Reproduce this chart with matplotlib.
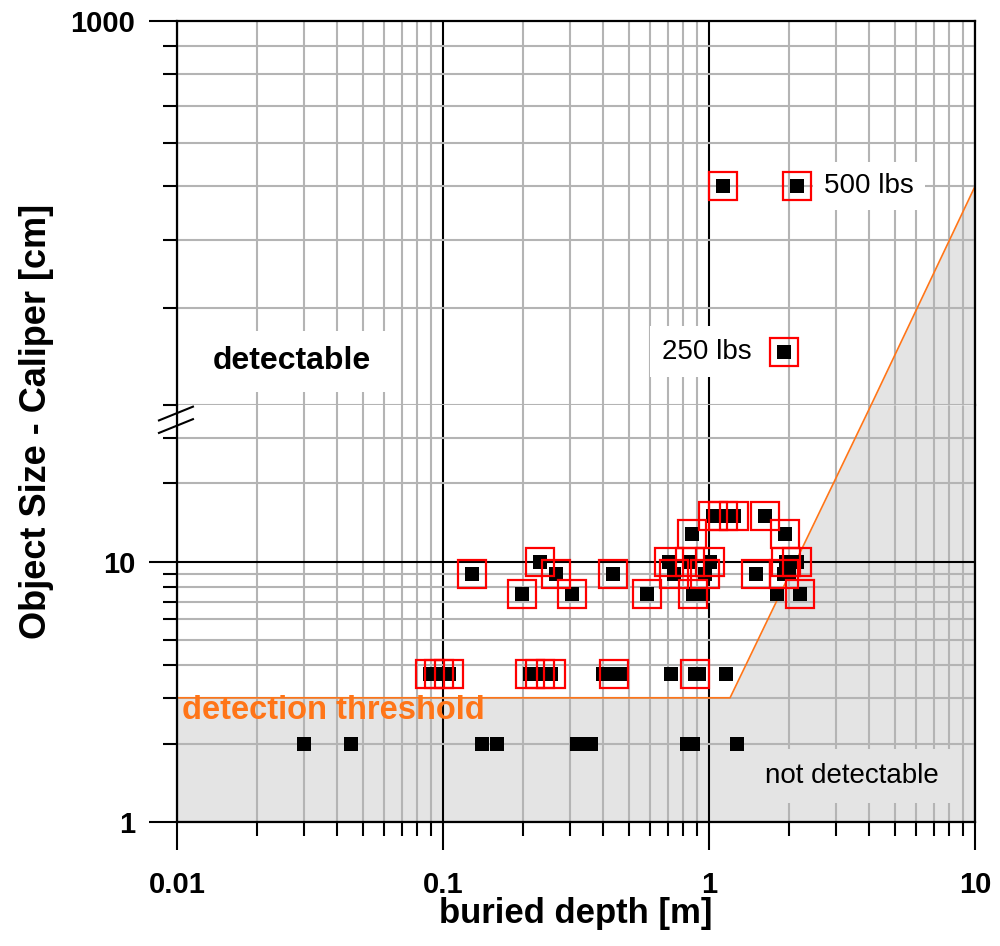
import numpy as np
import matplotlib.pyplot as plt

plt.rcParams['font.family'] = ['Liberation Sans', 'DejaVu Sans']

# depth [m] / caliper [cm] of the found objects
plain_depth = [0.03, 0.045, 0.14, 0.16, 0.32, 0.36, 0.83, 0.87, 1.27,
               0.40, 0.47, 0.72, 0.92, 1.16,
               0.95, 1.80,
               2.00]
plain_size = [2, 2, 2, 2, 2, 2, 2, 2, 2,
              3.7, 3.7, 3.7, 3.7, 3.7,
              7.5, 7.5,
              9]

marked_depth = [0.089, 0.097, 0.105, 0.212, 0.232, 0.255, 0.44, 0.885,
                0.198, 0.305, 0.585, 0.87, 2.2,
                0.128, 0.267, 0.435, 0.74, 0.97, 1.5, 1.92,
                0.232, 0.71, 0.85, 1.01, 1.95, 2.14,
                0.86, 1.93,
                1.035, 1.13, 1.24, 1.63,
                1.13, 2.14, 1.91]
marked_size = [3.7, 3.7, 3.7, 3.7, 3.7, 3.7, 3.7, 3.7,
               7.5, 7.5, 7.5, 7.5, 7.5,
               9, 9, 9, 9, 9, 9, 9,
               10, 10, 10, 10, 10, 10,
               12.8, 12.8,
               15, 15, 15, 15,
               500, 500, 250]

# detection threshold, split at the axis break (40 cm below / 200 cm above)
thr_lo_depth = [0.01, 1.2, 4.07, 10]
thr_lo_size = [3, 3, 40, 40]
thr_hi_depth = [4.07, 10]
thr_hi_size = [200, 500]

x_ticks = [0.01, 0.1, 1, 10]
x_labels = ['0.01', '0.1', '1', '10']

orange = '#ff7518'
fill_grey = '#e4e4e4'
grid_grey = '#b4b4b4'

fig = plt.figure(figsize=(10, 9.46), dpi=100)
ax_lo = fig.add_axes([0.177, 0.1311, 0.798, 0.4408])
ax_hi = fig.add_axes([0.177, 0.5719, 0.798, 0.4059])

for ax in (ax_lo, ax_hi):
    ax.set_xscale('log')
    ax.set_yscale('log')
    ax.set_xlim(0.01, 10)
    ax.set_xticks(x_ticks)
    ax.set_xticks([m * d for d in (0.01, 0.1, 1) for m in range(2, 10)], minor=True)
    ax.grid(which='minor', color=grid_grey, lw=1.5)
    ax.grid(which='major', axis='x', color='black', lw=1.5)
    for s in ax.spines.values():
        s.set_linewidth(1.6)
    ax.tick_params(which='major', direction='out', length=20, width=1.5)
    ax.tick_params(which='minor', direction='out', length=10, width=1.5)

ax_lo.set_ylim(1, 40)
ax_hi.set_ylim(200, 1000)
ax_lo.spines['top'].set_visible(False)
ax_hi.spines['bottom'].set_visible(False)

ax_lo.set_xticks(x_ticks, x_labels, fontsize=21, fontweight='bold')
ax_lo.tick_params(axis='x', which='major', pad=15)
ax_hi.tick_params(axis='x', which='both', bottom=False, labelbottom=False)

ax_lo.set_yticks([1, 10], ['1', '10'], fontsize=21, fontweight='bold')
ax_lo.set_yticks([2, 3, 4, 5, 6, 7, 8, 9, 20, 30], minor=True)
ax_lo.set_yticklabels([], minor=True)
ax_lo.grid(which='major', axis='y', color='black', lw=1.5)
ax_hi.set_yticks([1000], ['1000'], fontsize=21, fontweight='bold')
ax_hi.set_yticks([200, 300, 400, 500, 600, 700, 800, 900], minor=True)
ax_hi.set_yticklabels([], minor=True)
for ax in (ax_lo, ax_hi):
    ax.tick_params(axis='y', which='major', pad=10)

# not-detectable area
ax_lo.fill_between(thr_lo_depth, thr_lo_size, 1, color=fill_grey, lw=0, zorder=1)
ax_hi.fill_between(thr_hi_depth, thr_hi_size, 200, color=fill_grey, lw=0, zorder=1)
ax_lo.plot(thr_lo_depth[:3], thr_lo_size[:3], color=orange, lw=1.2, zorder=2)
ax_hi.plot(thr_hi_depth, thr_hi_size, color=orange, lw=1.2, zorder=2)

# objects
for ax, lo, hi in ((ax_lo, 1, 40), (ax_hi, 200, 1000)):
    pd_ = [(d, s) for d, s in zip(plain_depth + marked_depth, plain_size + marked_size) if lo <= s <= hi]
    md_ = [(d, s) for d, s in zip(marked_depth, marked_size) if lo <= s <= hi]
    if pd_:
        x, y = zip(*pd_)
        ax.plot(x, y, ls='none', marker='s', ms=10.5, color='black', mew=0, zorder=4)
    if md_:
        x, y = zip(*md_)
        ax.plot(x, y, ls='none', marker='s', ms=19.5, mfc='none', mec='red', mew=1.6, zorder=5)

# texts
ax_hi.text(0.027, 240, 'detectable', fontsize=23, fontweight='bold', ha='center', va='center',
           bbox=dict(boxstyle='square,pad=0.5', fc='white', ec='none'), zorder=3)
ax_hi.text(1.45, 250, '250 lbs', fontsize=20, ha='right', va='center',
           bbox=dict(boxstyle='square,pad=0.45', fc='white', ec='none'), zorder=3)
ax_hi.text(2.7, 500, '500 lbs', fontsize=20, ha='left', va='center',
           bbox=dict(boxstyle='square,pad=0.4', fc='white', ec='none'), zorder=3)
ax_lo.text(3.45, 1.5, 'not detectable', fontsize=20, ha='center', va='center',
           bbox=dict(boxstyle='square,pad=0.5', fc=fill_grey, ec='none'), zorder=3)
ax_lo.text(0.0104, 2.67, 'detection threshold', fontsize=23.5, fontweight='bold',
           color=orange, ha='left', va='center', zorder=3)

# axis break marks
for dy in (0.0, 0.03):
    ax_lo.plot([-0.0226, 0.020], [0.933 + dy, 0.966 + dy], transform=ax_lo.transAxes,
               color='black', lw=1.5, clip_on=False, zorder=6)

fig.text(0.037, 0.554, 'Object Size - Caliper [cm]', rotation=90, fontsize=26,
         fontweight='bold', ha='center', va='center')
fig.text(0.576, 0.034, 'buried depth [m]', fontsize=25, fontweight='bold',
         ha='center', va='center')

fig.savefig('out.png', dpi=100)
